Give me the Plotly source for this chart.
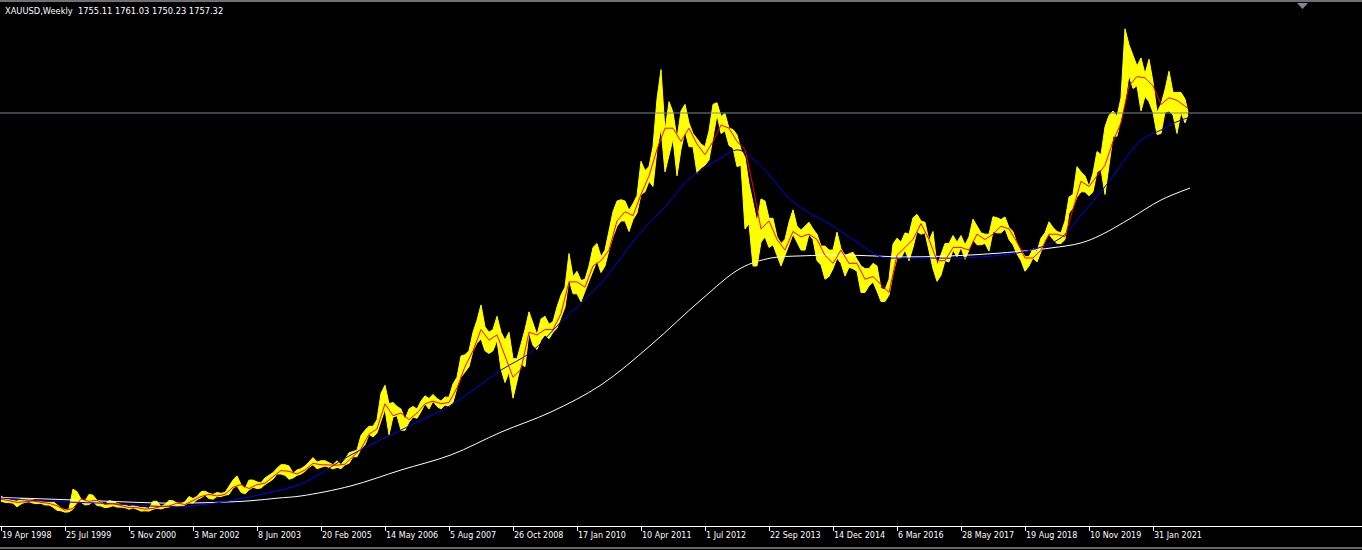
import plotly.graph_objects as go

# ---------------- data ----------------
# x axis = bar number (1 weekly bar per step, like the terminal chart)
bars = list(range(0, 1188, 4)) + [1187]

high = [
    312, 302, 298, 296, 292, 302, 300, 300, 297, 293, 292, 290, 288, 292, 280, 266,
    260, 262, 338, 328, 300, 292, 318, 315, 296, 290, 280, 294, 292, 284, 280, 278,
    272, 276, 272, 268, 268, 265, 292, 292, 272, 280, 295, 294, 285, 282, 290, 310,
    302, 310, 328, 330, 322, 318, 325, 322, 325, 350, 372, 388, 355, 340, 372, 372,
    365, 362, 380, 390, 400, 417, 430, 430, 425, 398, 410, 415, 425, 440, 457, 440,
    445, 445, 438, 430, 445, 430, 450, 475, 480, 485, 540, 560, 575, 575, 600, 700,
    730, 660, 665, 650, 640, 600, 640, 650, 640, 670, 690, 680, 695, 680, 670, 685,
    685, 735, 760, 840, 845, 860, 930, 975, 1033, 950, 930, 940, 990, 930, 900, 930,
    830, 830, 885, 940, 1007, 960, 920, 980, 990, 960, 970, 1025, 1070, 1100, 1227, 1140,
    1160, 1125, 1130, 1180, 1250, 1265, 1215, 1240, 1310, 1385, 1425, 1430, 1425, 1390, 1415, 1445,
    1575, 1540, 1555, 1630, 1810, 1921, 1690, 1800, 1760, 1660,
    1765, 1790, 1720, 1680, 1660, 1640, 1630, 1690, 1790, 1796, 1745, 1755, 1700, 1695, 1675, 1620,
    1590, 1490, 1420, 1345, 1433, 1425, 1360, 1360, 1290, 1265, 1280, 1345, 1392, 1330, 1315, 1330,
    1345, 1320, 1300, 1255, 1255, 1240, 1240, 1308, 1245, 1220, 1225, 1232, 1205, 1180, 1170, 1170,
    1190, 1180, 1095, 1090, 1130, 1263, 1285, 1270, 1305, 1300, 1362, 1375, 1350, 1345, 1275, 1310,
    1180, 1220, 1265, 1265, 1295, 1270, 1295, 1260, 1290, 1357, 1330, 1305, 1300, 1300, 1366, 1362,
    1355, 1365, 1325, 1310, 1265, 1240, 1215, 1215, 1245, 1235, 1285, 1305, 1347, 1325, 1310, 1305,
    1350, 1440, 1450, 1555, 1535, 1520, 1480, 1530, 1612, 1600, 1705, 1748, 1765, 1745, 1815, 2075,
    2015, 1975, 1935, 1965, 1905, 1960, 1875, 1760, 1790, 1845, 1915, 1835, 1835, 1835, 1810,
    1761,
]

low = [
    292, 288, 287, 285, 271, 282, 288, 290, 285, 283, 284, 278, 278, 270, 258, 256,
    251, 252, 262, 288, 288, 278, 280, 290, 276, 274, 268, 270, 275, 270, 270, 268,
    262, 267, 262, 255, 256, 255, 262, 266, 263, 268, 270, 277, 272, 272, 278, 288,
    285, 298, 305, 315, 302, 300, 310, 310, 315, 318, 342, 350, 326, 320, 335, 345,
    340, 342, 355, 365, 375, 395, 395, 390, 375, 380, 390, 395, 405, 420, 430, 415,
    420, 425, 420, 414, 420, 415, 430, 435, 460, 460, 490, 505, 545, 535, 550, 595,
    640, 543, 610, 615, 560, 560, 590, 610, 605, 630, 660, 640, 670, 650, 640, 655,
    650, 665, 720, 760, 780, 800, 860, 890, 905, 860, 850, 860, 900, 790, 740, 780,
    681, 740, 810, 800, 930, 880, 865, 900, 920, 905, 930, 945, 985, 1025, 1130, 1075,
    1075, 1045, 1085, 1125, 1160, 1200, 1155, 1180, 1240, 1290, 1330, 1350, 1350, 1310, 1355, 1380,
    1450, 1460, 1500, 1480, 1620, 1700, 1535, 1600, 1660, 1520,
    1620, 1690, 1630, 1630, 1530, 1550, 1560, 1580, 1660, 1750, 1680, 1690, 1635, 1625, 1555, 1560,
    1320, 1340, 1180, 1180, 1270, 1290, 1250, 1260, 1220, 1180, 1220, 1260, 1300, 1270, 1240, 1240,
    1300, 1280, 1200, 1185, 1130, 1140, 1170, 1210, 1190, 1142, 1175, 1170, 1160, 1080, 1080, 1105,
    1120, 1085, 1046, 1046, 1070, 1150, 1210, 1210, 1240, 1200, 1250, 1310, 1300, 1305, 1240, 1170,
    1122, 1145, 1200, 1195, 1240, 1215, 1250, 1205, 1240, 1280, 1260, 1260, 1265, 1236, 1310, 1305,
    1305, 1320, 1280, 1260, 1225, 1200, 1160, 1180, 1210, 1195, 1235, 1275, 1300, 1280, 1265, 1265,
    1280, 1380, 1400, 1440, 1460, 1460, 1445, 1460, 1535, 1545, 1450, 1570, 1670, 1670, 1740, 1800,
    1900, 1850, 1860, 1765, 1820, 1800, 1760, 1676, 1680, 1760, 1765, 1750, 1680, 1760, 1720,
    1750,
]

# fast moving average (red)
red_bars = list(range(0, 1188, 8)) + [1187]
red_ma = [
    300, 294, 288, 290, 293, 288, 284, 275,
    258, 265, 300, 292, 296, 280, 283, 276,
    268, 268, 262, 265, 272, 274, 285, 280,
    295, 310, 318, 312, 318, 345, 355, 340,
    355, 360, 385, 408, 405, 395, 410, 435,
    430, 430, 428, 432, 462, 490, 545, 565,
    660, 615, 625, 600, 625, 660, 670, 660,
    665, 720, 800, 860, 940, 900, 920, 840,
    760, 790, 930, 920, 940, 940, 1000, 1120,
    1120, 1100, 1180, 1200, 1240, 1350, 1385, 1370,
    1450, 1520, 1620, 1700, 1700, 1650, 1700, 1640,
    1600, 1650, 1712, 1700, 1650, 1620, 1480, 1320,
    1350, 1280, 1240, 1310, 1290, 1300, 1280, 1220,
    1190, 1240, 1190, 1190, 1130, 1140, 1110, 1080,
    1220, 1250, 1280, 1340, 1280, 1200, 1200, 1250,
    1250, 1240, 1300, 1280, 1300, 1330, 1320, 1270,
    1210, 1210, 1240, 1300, 1300, 1290, 1400, 1500,
    1480, 1520, 1560, 1650, 1720, 1860, 1895, 1890,
    1860, 1790, 1815, 1805, 1785, 1775,
]

# medium moving average (blue)
blue_bars = [0, 50, 100, 150, 183, 200, 233, 267, 300, 350, 400, 450, 500, 530, 560, 600,
             640, 663, 687, 703, 720, 737, 753, 770, 787, 800, 830, 860, 880, 900, 930, 960,
             1000, 1030, 1060, 1080, 1100, 1120, 1140, 1160, 1175, 1189]
blue_ma = [304, 291, 285, 274, 272, 278, 297, 324, 357, 467, 561, 655, 787, 855, 969, 1116,
           1308, 1399, 1505, 1550, 1588, 1618, 1580, 1516, 1440, 1399, 1335, 1259, 1214, 1210, 1210, 1210,
           1221, 1240, 1286, 1372, 1459, 1561, 1655, 1693, 1723, 1742]

# slow moving average (white)
white_bars = [0, 50, 100, 165, 217, 250, 277, 300, 350, 400, 450, 500, 550, 600, 650, 700,
              740, 770, 800, 850, 900, 950, 1000, 1050, 1080, 1100, 1130, 1160, 1189]
white_ma = [306, 300, 293, 285, 288, 294, 304, 312, 350, 410, 467, 553, 629, 731, 882, 1052,
            1172, 1210, 1218, 1221, 1214, 1218, 1229, 1248, 1267, 1297, 1361, 1429, 1474]

last_price = 1757.32
title_text = "XAUUSD,Weekly\u00a0\u00a01755.11 1761.03 1750.23 1757.32"

tick_bars = [0, 64, 128, 192, 256, 320, 384, 448, 512, 576, 640, 704, 768, 832, 896, 960, 1024, 1088, 1152]
tick_labels = ["19 Apr 1998", "25 Jul 1999", "5 Nov 2000", "3 Mar 2002", "8 Jun 2003", "20 Feb 2005",
               "14 May 2006", "5 Aug 2007", "26 Oct 2008", "17 Jan 2010", "10 Apr 2011", "1 Jul 2012",
               "22 Sep 2013", "14 Dec 2014", "6 Mar 2016", "28 May 2017", "19 Aug 2018", "10 Nov 2019",
               "31 Jan 2021"]

# ---------------- figure ----------------
W, H = 1362, 550
M_T, M_B = 3, 24
PLOT_H = H - M_T - M_B
FONT = "DejaVu Sans"

fig = go.Figure()
fig.add_trace(go.Scatter(x=bars, y=low, mode="lines", line=dict(color="#FFFF00", width=1),
                         hoverinfo="skip", showlegend=False))
fig.add_trace(go.Scatter(x=bars, y=high, mode="lines", line=dict(color="#FFFF00", width=1),
                         fill="tonexty", fillcolor="#FFFF00", hoverinfo="skip", showlegend=False))
fig.add_trace(go.Scatter(x=white_bars, y=white_ma, mode="lines", line=dict(color="#FFFFFF", width=1, shape="spline"),
                         hoverinfo="skip", showlegend=False))
fig.add_trace(go.Scatter(x=blue_bars, y=blue_ma, mode="lines", line=dict(color="#0000FF", width=1, shape="spline"),
                         hoverinfo="skip", showlegend=False))
fig.add_trace(go.Scatter(x=red_bars, y=red_ma, mode="lines", line=dict(color="#FF0000", width=1),
                         hoverinfo="skip", showlegend=False))

def py(px):
    """pixel row -> paper y"""
    return (H - M_B - px) / PLOT_H

shapes = [
    dict(type="line", xref="paper", x0=0, x1=1, yref="y", y0=last_price, y1=last_price,
         line=dict(color="#778899", width=1), layer="above"),
    dict(type="line", xref="paper", x0=0, x1=1, yref="paper", y0=py(1), y1=py(1),
         line=dict(color="#707070", width=2)),
    dict(type="line", xref="paper", x0=0, x1=1, yref="paper", y0=py(548), y1=py(548),
         line=dict(color="#d0d0d0", width=1)),
    dict(type="path", xref="paper", yref="paper", fillcolor="#778899", line=dict(width=0),
         path=f"M {1297/W},{py(3)} L {1308/W},{py(3)} L {1302.5/W},{py(9)} Z"),
]

annotations = [dict(text=title_text, xref="paper", x=0, xanchor="left", xshift=3,
                    yref="paper", y=1, yanchor="top", yshift=-1, showarrow=False,
                    font=dict(family=FONT, size=8.3, color="#FFFFFF"))]
for b, lab in zip(tick_bars, tick_labels):
    annotations.append(dict(text=lab, xref="x", x=b, xanchor="left", xshift=-1,
                            yref="paper", y=0, yanchor="top", yshift=-3, showarrow=False,
                            font=dict(family=FONT, size=8, color="#FFFFFF")))

fig.update_layout(
    width=W, height=H,
    margin=dict(l=0, r=0, t=M_T, b=M_B, pad=0),
    paper_bgcolor="#000000", plot_bgcolor="#000000",
    showlegend=False,
    xaxis=dict(range=[-1, 1361], showgrid=False, zeroline=False, showline=True,
               linecolor="#FFFFFF", linewidth=1, ticks="outside", ticklen=4,
               tickcolor="#FFFFFF", tickwidth=1, tickvals=tick_bars, showticklabels=False,
               fixedrange=True),
    yaxis=dict(range=[198.66, 2172.5], showgrid=False, zeroline=False, showline=False,
               showticklabels=False, ticks="", fixedrange=True),
    shapes=shapes, annotations=annotations,
)

fig.write_html(
    "out.html",
    config={"displayModeBar": False},
    post_script="document.body.style.margin='0px';document.body.style.background='#000000';"
                "document.body.style.overflow='hidden';",
)
